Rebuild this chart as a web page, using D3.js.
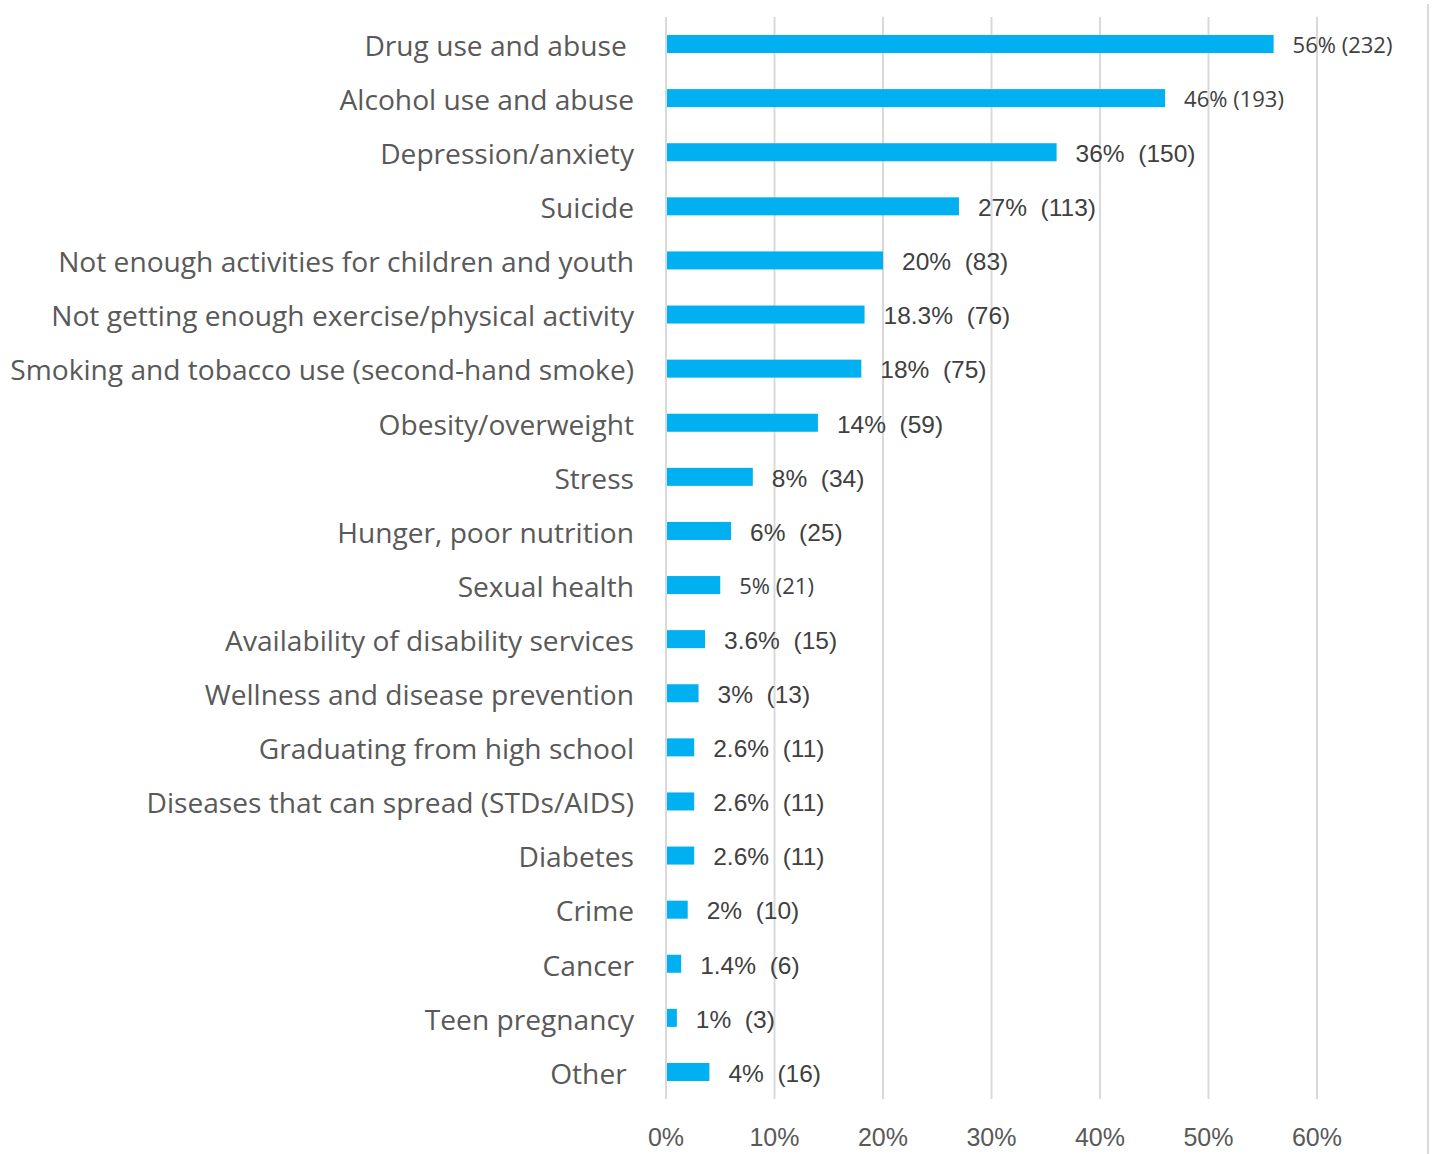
<!DOCTYPE html>
<html>
<head>
<meta charset="utf-8">
<script src="https://cdn.jsdelivr.net/npm/d3@7"></script>
<style>
  body { margin: 0; background: #fff; }
  text { white-space: pre; }
</style>
</head>
<body>
<svg id="chart" width="1432" height="1154"></svg>
<script>
// Health concerns, share of respondents (%) and number of responses
const categories = [
  "Drug use and abuse ",
  "Alcohol use and abuse",
  "Depression/anxiety",
  "Suicide",
  "Not enough activities for children and youth",
  "Not getting enough exercise/physical activity",
  "Smoking and tobacco use (second-hand smoke)",
  "Obesity/overweight",
  "Stress",
  "Hunger, poor nutrition",
  "Sexual health",
  "Availability of disability services",
  "Wellness and disease prevention",
  "Graduating from high school",
  "Diseases that can spread (STDs/AIDS)",
  "Diabetes",
  "Crime",
  "Cancer",
  "Teen pregnancy",
  "Other "
];
const percents = [56, 46, 36, 27, 20, 18.3, 18, 14, 8, 6, 5, 3.6, 3, 2.6, 2.6, 2.6, 2, 1.4, 1, 4];
const counts = [232, 193, 150, 113, 83, 76, 75, 59, 34, 25, 21, 15, 13, 11, 11, 11, 10, 6, 3, 16];
const tickValues = [0, 10, 20, 30, 40, 50, 60];

const rows = categories.map((c, i) => ({ category: c, pct: percents[i], n: counts[i] }));

const svg = d3.select("#chart");
const plotTop = 17, plotBottom = 1099;

const x = d3.scaleLinear().domain([0, 70]).range([666, 1425.5]);
const y = d3.scaleBand().domain(categories).range([plotTop, plotBottom]).paddingInner(0.667).paddingOuter(0.333);

// vertical gridlines
svg.append("g").selectAll("line").data(tickValues).join("line")
  .attr("x1", d => x(d)).attr("x2", d => x(d))
  .attr("y1", plotTop).attr("y2", plotBottom)
  .attr("stroke", "#d9d9d9").attr("stroke-width", 2);

// chart frame edge on the right
svg.append("line")
  .attr("x1", 1428).attr("x2", 1428).attr("y1", 4).attr("y2", 1154)
  .attr("stroke", "#d9d9d9").attr("stroke-width", 2);

// bars
svg.append("g").selectAll("rect").data(rows).join("rect")
  .attr("x", x(0) + 1)
  .attr("y", d => y(d.category))
  .attr("width", d => x(d.pct) - x(0) - 1)
  .attr("height", y.bandwidth())
  .attr("fill", "#00b0f0");

// category labels
const catLabels = svg.append("g").selectAll("text").data(rows).join("text")
  .attr("x", 634)
  .attr("y", d => y(d.category) + y.bandwidth() / 2)
  .attr("dy", "0.42em")
  .attr("text-anchor", "end")
  .attr("font-family", "'Open Sans', sans-serif")
  .attr("font-size", 28)
  .attr("fill", "#595959")
  .text(d => d.category);

// fit the category font so the longest label spans the left margin
let longest = 0;
catLabels.each(function () { longest = Math.max(longest, this.getComputedTextLength()); });
catLabels.attr("font-size", 28 * 624 / longest);

// value labels; a few carry the compact style
const compact = new Set([232, 193, 21]);
svg.append("g").selectAll("text").data(rows).join("text")
  .attr("x", d => x(d.pct) + 19)
  .attr("y", d => y(d.category) + y.bandwidth() / 2)
  .attr("dy", "0.4em")
  .attr("font-family", d => compact.has(d.n) ? "'Open Sans', sans-serif" : "'Liberation Sans', Arial, sans-serif")
  .attr("font-size", d => compact.has(d.n) ? 22 : 24.5)
  .attr("fill", "#404040")
  .text(d => compact.has(d.n) ? `${d.pct}% (${d.n})` : `${d.pct}%  (${d.n})`);

// x axis tick labels
svg.append("g").selectAll("text").data(tickValues).join("text")
  .attr("x", d => x(d))
  .attr("y", 1146)
  .attr("text-anchor", "middle")
  .attr("font-family", "'Liberation Sans', Arial, sans-serif")
  .attr("font-size", 25)
  .attr("fill", "#595959")
  .text(d => d + "%");
</script>
</body>
</html>
